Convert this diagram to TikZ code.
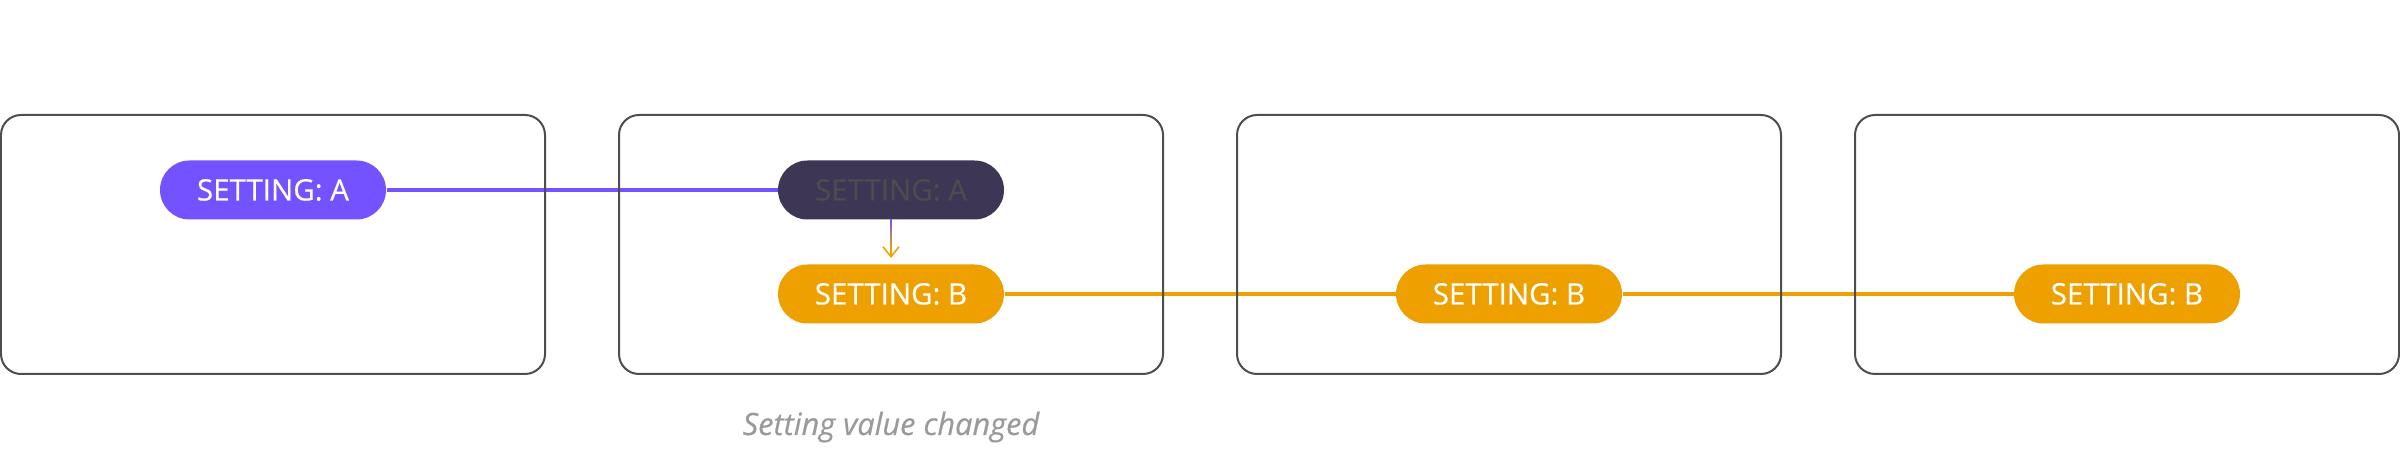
\documentclass[tikz,border=0pt]{standalone}
\usepackage{fontspec}
\setmainfont{Open Sans}
\newfontfamily\pillfamily[FakeBold=0.4]{Open Sans}
\usetikzlibrary{arrows.meta}
\usetikzlibrary{calc}
\usetikzlibrary{backgrounds}
\definecolor{setpurple}{HTML}{7452FF}
\definecolor{setdark}{HTML}{3D3654}
\definecolor{setfaded}{HTML}{4E4B50}
\definecolor{setorange}{HTML}{EDA000}
\definecolor{frameline}{HTML}{4D4D4D}
\definecolor{captiongray}{HTML}{9A9A9A}
\newcommand{\pillwidth}{90.4pt}
\newcommand{\pillheight}{23.6pt}
\newcommand{\pillfont}{\pillfamily\fontsize{11.8pt}{14pt}\selectfont}
\newcommand{\captionfont}{\pillfamily\itshape\fontsize{12.3pt}{14pt}\selectfont}

\begin{document}
\begin{tikzpicture}[x=0.4pt,y=0.4pt]
            \useasboundingbox (0,0) rectangle (2400,466);

            \begin{scope}[every node/.style={draw=frameline,line width=0.8pt,rounded corners=8pt,
                minimum width=217.6pt,minimum height=103.6pt,inner sep=0pt}]
                \foreach \i in {1,...,4}
                    \node (frame\i) at ({273+618*(\i-1)},221.5) {};
            \end{scope}

            \begin{scope}[every node/.style={rounded corners=11.8pt,minimum width=\pillwidth,
                minimum height=\pillheight,inner sep=0pt,font=\pillfont}]
                \node[fill=setpurple,text=white] (a1) at ($(frame1.center)+(0,54.5)$) {SETTING: A};
                \node[fill=setdark,text=setfaded] (a2) at ($(frame2.center)+(0,54.5)$) {SETTING: A};
                \node[fill=setorange,text=white] (b2) at ($(frame2.center)+(0,-49.5)$) {SETTING: B};
                \node[fill=setorange,text=white] (b3) at ($(frame3.center)+(0,-49.5)$) {SETTING: B};
                \node[fill=setorange,text=white] (b4) at ($(frame4.center)+(0,-49.5)$) {SETTING: B};
            \end{scope}

            \begin{scope}[on background layer,every edge/.style={draw,line width=1.4pt}]
                \path (a1) edge[setpurple] (a2);
                \path (b2) edge[setorange] (b3);
                \path (b3) edge[setorange] (b4);
            \end{scope}

            % the value changes from A to B
            \draw[line width=0.6pt,setorange,-{Straight Barb[length=4pt,width=6.4pt]},shorten >=2.4pt] (a2) -- (b2);
            \shade[top color=setpurple,bottom color=setorange]
                ($(a2.south)+(-0.75,0)$) rectangle ($(a2.south)!0.6!(b2.north)+(0.75,0)$);

            \node[anchor=base,text=captiongray,font=\captionfont] (caption)
                at ($(frame2.center)+(0,-190.5)$) {Setting value changed};
\end{tikzpicture}
\end{document}
